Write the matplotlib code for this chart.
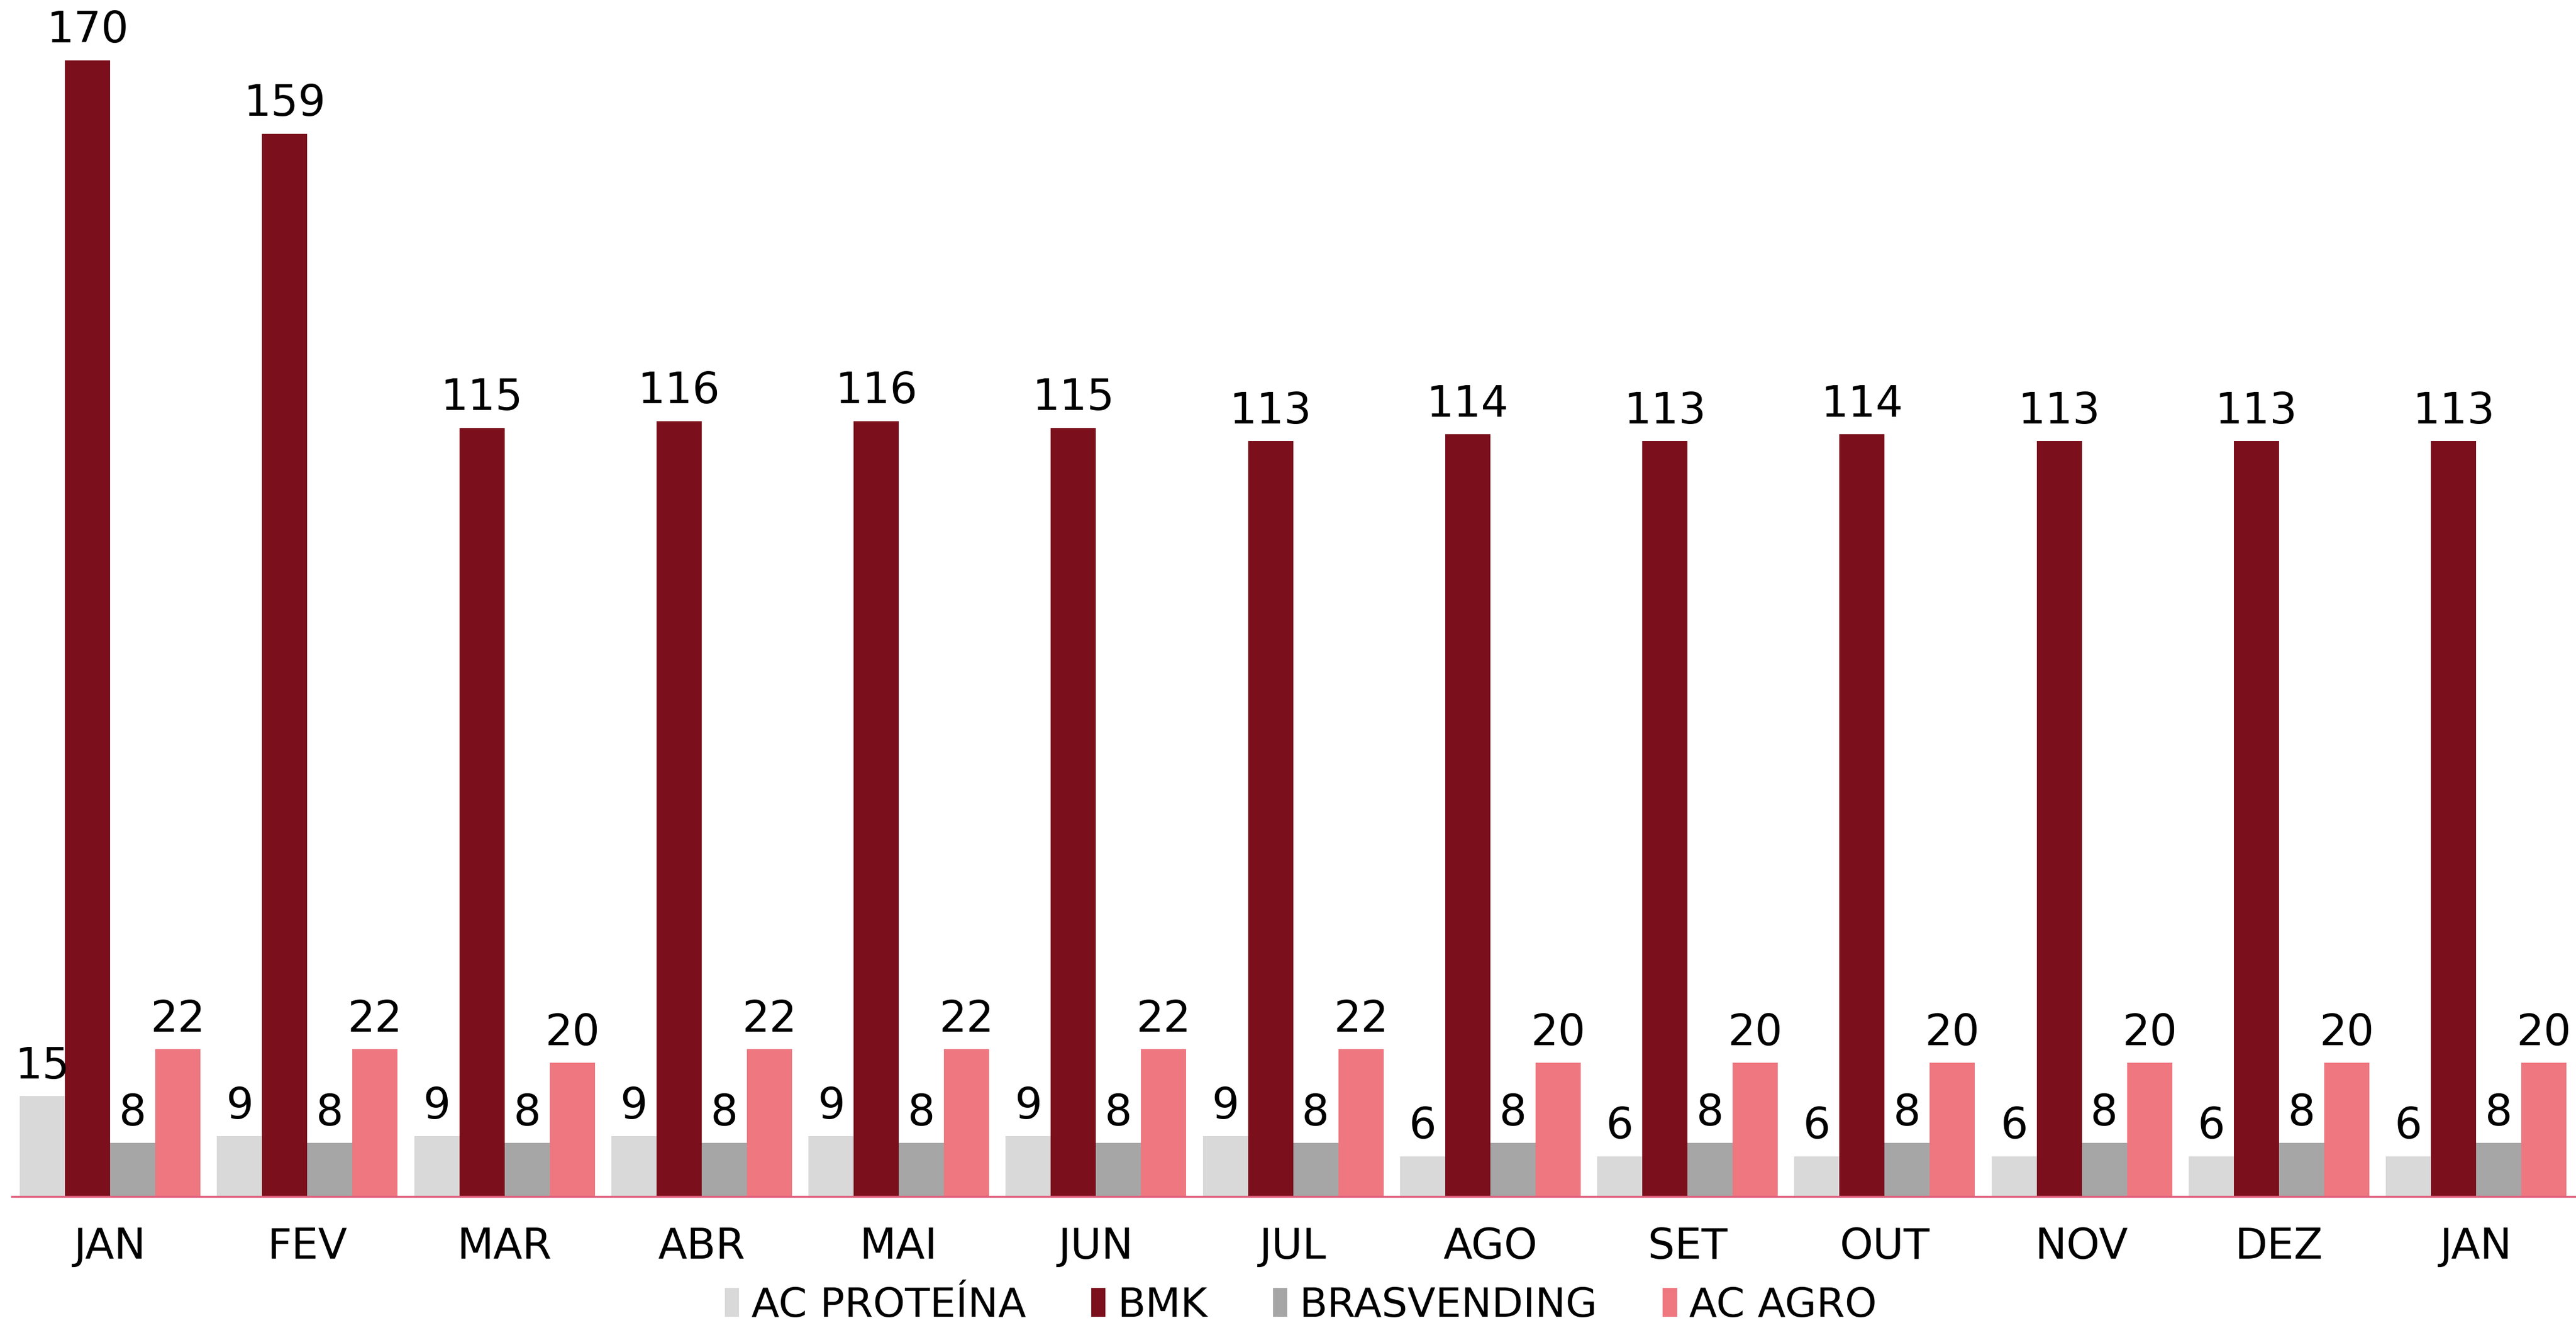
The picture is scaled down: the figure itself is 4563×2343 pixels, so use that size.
import matplotlib
matplotlib.use("Agg")
import matplotlib.pyplot as plt
import numpy as np

months = ["JAN", "FEV", "MAR", "ABR", "MAI", "JUN", "JUL", "AGO", "SET", "OUT", "NOV", "DEZ", "JAN"]
series_names = ["AC PROTEÍNA", "BMK", "BRASVENDING", "AC AGRO"]
ac_proteina = [15, 9, 9, 9, 9, 9, 9, 6, 6, 6, 6, 6, 6]
bmk = [170, 159, 115, 116, 116, 115, 113, 114, 113, 114, 113, 113, 113]
brasvending = [8, 8, 8, 8, 8, 8, 8, 8, 8, 8, 8, 8, 8]
ac_agro = [22, 22, 20, 22, 22, 22, 22, 20, 20, 20, 20, 20, 20]
colors = ["#D9D9D9", "#7B0F1C", "#A6A6A6", "#EE7780"]

plt.rcParams['font.family'] = ['DejaVu Sans']

fig = plt.figure(figsize=(45.63, 23.43), dpi=100)
ax = fig.add_axes([0.0045, 0.0957, 0.995, 0.9043])

x = np.arange(len(months))
w = 0.229
data = [ac_proteina, bmk, brasvending, ac_agro]
for i, (name, vals, c) in enumerate(zip(series_names, data, colors)):
    bars = ax.bar(x + (i - 1.5) * w, vals, width=w, color=c, label=name, zorder=2)
    for b, v in zip(bars, vals):
        ax.annotate(str(v), (b.get_x() + b.get_width() / 2, b.get_height()),
                    xytext=(0, 11), textcoords="offset points",
                    ha="center", va="bottom", fontsize=55, color="black")

ax.set_xlim(-0.5, 12.5)
ax.set_ylim(0, 179)
for s in ["top", "right", "left"]:
    ax.spines[s].set_visible(False)
ax.spines["bottom"].set_color("#E0607E")
ax.spines["bottom"].set_linewidth(2.5)
ax.set_yticks([])
ax.set_xticks(x)
ax.set_xticklabels(months, fontsize=54)
ax.tick_params(axis="x", length=0, pad=38)

handles, labels = ax.get_legend_handles_labels()
fig.legend(handles, labels, loc="center", bbox_to_anchor=(0.505, 0.013), ncol=4,
           frameon=False, fontsize=52, handlelength=0.35, handleheight=0.7,
           handletextpad=0.3, columnspacing=1.6)

fig.savefig("out.png", dpi=100)
